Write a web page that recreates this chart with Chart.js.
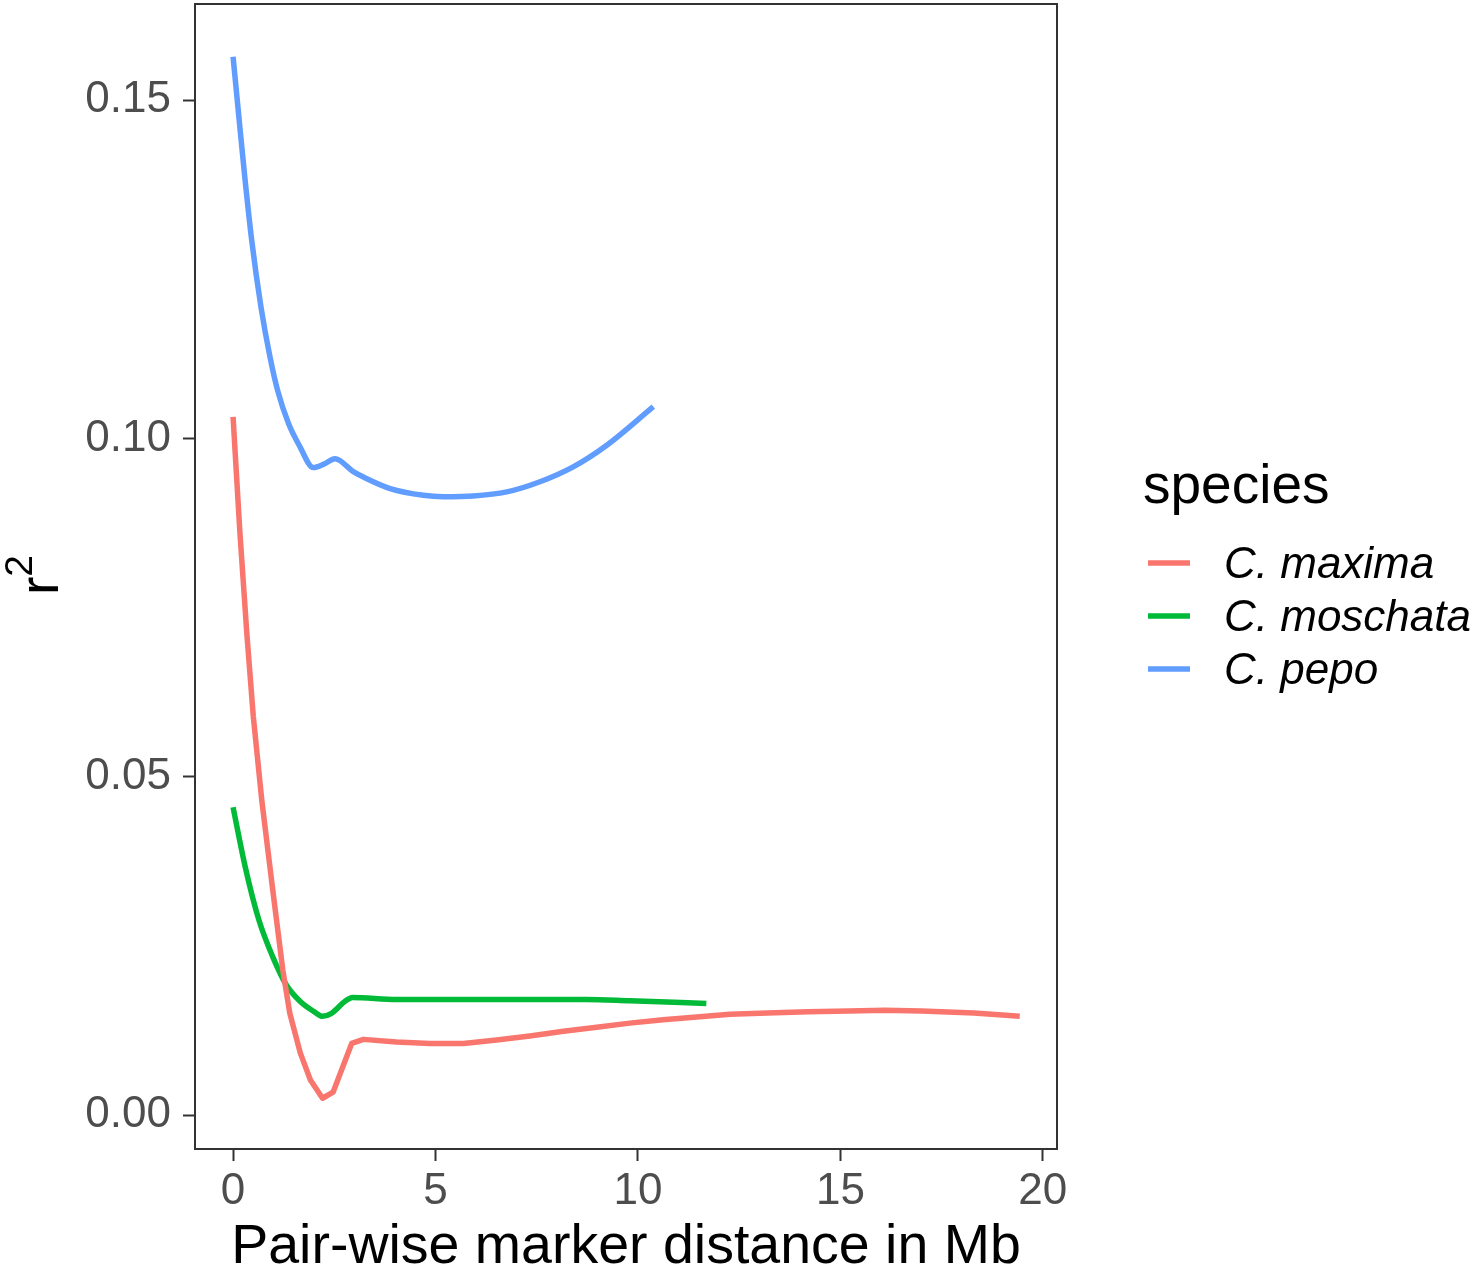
<!DOCTYPE html>
<html>
<head>
<meta charset="utf-8">
<script src="https://cdn.jsdelivr.net/npm/chart.js@4.4.1/dist/chart.umd.min.js"></script>
<style>
  html, body { margin: 0; padding: 0; background: #fff; }
  canvas { display: block; }
</style>
</head>
<body>
<canvas id="ldChart" width="1476" height="1276"></canvas>
<script>
// Series names and colours (ggplot defaults)
const speciesNames = ['C. maxima', 'C. moschata', 'C. pepo'];
const speciesColors = ['#F8766D', '#00BA38', '#619CFF'];

// C. maxima
const maximaX = [0, 0.17, 0.34, 0.50, 0.71, 0.98, 1.23, 1.40, 1.66, 1.91, 2.21, 2.47, 2.93, 3.22, 4.04, 4.86, 5.69, 6.51, 7.33, 8.16, 8.98, 9.80, 10.62, 11.45, 12.27, 13.2, 14.2, 15.2, 16.1, 17.0, 18.3, 19.43];
const maximaY = [0.1032, 0.0860, 0.0712, 0.0589, 0.0465, 0.0333, 0.0214, 0.0151, 0.0092, 0.0052, 0.0025, 0.0034, 0.0106, 0.0112, 0.0108, 0.0106, 0.0106, 0.0111, 0.0117, 0.0124, 0.0130, 0.0136, 0.0141, 0.0145, 0.0149, 0.0151, 0.0153, 0.0154, 0.0155, 0.0154, 0.0151, 0.0146];

// C. moschata
const moschataX = [0, 0.30, 0.64, 0.98, 1.32, 1.66, 2.00, 2.21, 2.42, 2.76, 2.95, 4.04, 5.74, 7.44, 8.72, 9.80, 11.69];
const moschataY = [0.0455, 0.0367, 0.0288, 0.0234, 0.0192, 0.0168, 0.0153, 0.0146, 0.0150, 0.0168, 0.0174, 0.0171, 0.0171, 0.0171, 0.0171, 0.0169, 0.0165];

// C. pepo
const pepoX = [0, 0.12, 0.28, 0.46, 0.69, 0.91, 1.10, 1.37, 1.65, 1.98, 2.24, 2.52, 2.97, 3.22, 3.88, 4.70, 5.19, 5.93, 6.76, 7.58, 8.40, 9.23, 10.38];
const pepoY = [0.1564, 0.1490, 0.1392, 0.1293, 0.1194, 0.1121, 0.1071, 0.1022, 0.0988, 0.0957, 0.0962, 0.0970, 0.0951, 0.0943, 0.0926, 0.0916, 0.0914, 0.0915, 0.0921, 0.0936, 0.0958, 0.0990, 0.1047];

// Axis ticks
const xTicks = [0, 5, 10, 15, 20];
const yTicks = [0, 0.05, 0.10, 0.15];

const FONT = 'Liberation Sans, Arial, sans-serif';

function toPoints(xs, ys) {
    return xs.map((x, i) => ({ x: x, y: ys[i] }));
}

function makeDataset(i, xs, ys, smooth) {
    return {
        label: speciesNames[i],
        data: toPoints(xs, ys),
        borderColor: speciesColors[i],
        borderWidth: 5.5,
        pointRadius: 0,
        fill: false,
        cubicInterpolationMode: smooth ? 'monotone' : 'default',
        tension: 0,
        borderCapStyle: 'butt',
        borderJoinStyle: 'round'
    };
}

// Panel border, y title with superscript, and the legend
const decorPlugin = {
    id: 'decor',
    afterDraw(chart) {
        const ctx = chart.ctx;
        const a = chart.chartArea;
        ctx.save();

        // box around the panel
        ctx.strokeStyle = '#333333';
        ctx.lineWidth = 2;
        ctx.strokeRect(a.left, a.top, a.right - a.left, a.bottom - a.top);

        // y axis title r^2
        ctx.translate(58, 595);
        ctx.rotate(-Math.PI / 2);
        ctx.fillStyle = '#000';
        ctx.textBaseline = 'alphabetic';
        ctx.textAlign = 'left';
        ctx.font = '55px ' + FONT;
        ctx.fillText('r', 0, 0);
        const rw = ctx.measureText('r').width;
        ctx.font = '39px ' + FONT;
        ctx.fillText('2', rw, -26);
        ctx.setTransform(1, 0, 0, 1, 0, 0);

        // legend
        ctx.fillStyle = '#000';
        ctx.font = '55px ' + FONT;
        ctx.fillText('species', 1143, 503);
        const rowY = [563, 616, 669];
        chart.data.datasets.forEach((ds, i) => {
            ctx.strokeStyle = ds.borderColor;
            ctx.lineWidth = 5.5;
            ctx.beginPath();
            ctx.moveTo(1148, rowY[i]);
            ctx.lineTo(1190, rowY[i]);
            ctx.stroke();
            ctx.fillStyle = '#000';
            ctx.font = 'italic 44px ' + FONT;
            ctx.textBaseline = 'alphabetic';
            ctx.fillText(ds.label, 1224, rowY[i] + 15);
        });
        ctx.restore();
    }
};

const ctx = document.getElementById('ldChart').getContext('2d');
const ldChart = new Chart(ctx, {
    type: 'line',
    data: {
        datasets: [
            makeDataset(0, maximaX, maximaY, false),
            makeDataset(1, moschataX, moschataY, true),
            makeDataset(2, pepoX, pepoY, true)
        ]
    },
    options: {
        responsive: false,
        animation: false,
        devicePixelRatio: 1,
        layout: { padding: { top: 4, right: 419, left: 0, bottom: 0 } },
        plugins: {
            legend: { display: false },
            tooltip: { enabled: false }
        },
        scales: {
            x: {
                type: 'linear',
                min: -0.94,
                max: 20.35,
                afterBuildTicks: scale => { scale.ticks = xTicks.map(v => ({ value: v })); },
                afterFit: scale => {
                    scale.height = 127;
                    scale.paddingLeft = 0;
                    scale.paddingRight = 0;
                },
                grid: { drawOnChartArea: false, drawTicks: true, tickLength: 12, tickColor: '#333333', tickWidth: 2 },
                border: { display: true, color: '#333333', width: 2 },
                ticks: {
                    color: '#4D4D4D',
                    font: { family: FONT, size: 44, lineHeight: 1 },
                    padding: 9,
                    maxRotation: 0,
                    callback: v => String(v)
                },
                title: {
                    display: true,
                    text: 'Pair-wise marker distance in Mb',
                    color: '#000',
                    font: { family: FONT, size: 55.5, lineHeight: 1 },
                    padding: { top: 0, bottom: 1 }
                }
            },
            y: {
                type: 'linear',
                min: -0.005,
                max: 0.1642,
                afterBuildTicks: scale => { scale.ticks = yTicks.map(v => ({ value: v })); },
                afterFit: scale => {
                    scale.width = 195;
                    scale.paddingTop = 0;
                    scale.paddingBottom = 0;
                },
                grid: { drawOnChartArea: false, drawTicks: true, tickLength: 12, tickColor: '#333333', tickWidth: 2 },
                border: { display: true, color: '#333333', width: 2 },
                ticks: {
                    color: '#4D4D4D',
                    font: { family: FONT, size: 44, lineHeight: 1 },
                    padding: 12,
                    callback: v => Number(v).toFixed(2)
                }
            }
        }
    },
    plugins: [decorPlugin]
});
</script>
</body>
</html>
